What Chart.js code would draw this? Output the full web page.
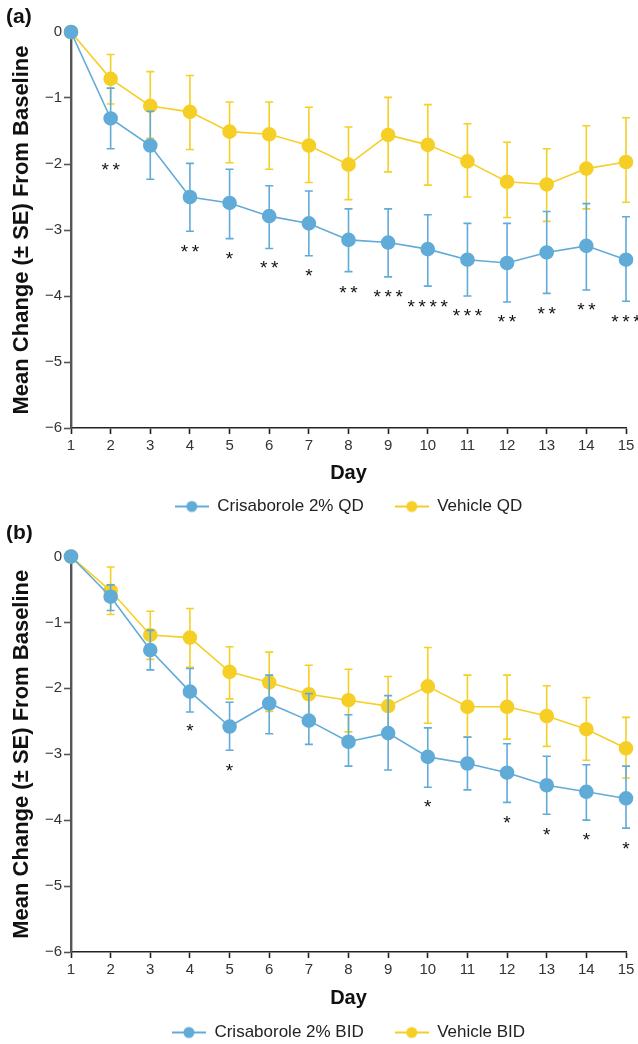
<!DOCTYPE html>
<html>
<head>
<meta charset="utf-8">
<script src="https://cdn.jsdelivr.net/npm/chart.js@4/dist/chart.umd.min.js"></script>
<style>
  html, body { margin: 0; padding: 0; background: #fff; overflow: hidden; }
  #page { position: relative; width: 638px; height: 1044px; overflow: hidden; }
  .panel { position: absolute; left: 0; width: 638px; }
  #panelA { top: 0; height: 525px; }
  #panelB { top: 525px; height: 526px; }
</style>
</head>
<body>
<div id="page">
  <div class="panel" id="panelA"><canvas id="chartA"></canvas></div>
  <div class="panel" id="panelB"><canvas id="chartB"></canvas></div>
</div>
<script>
// --- data ---
const days = [1, 2, 3, 4, 5, 6, 7, 8, 9, 10, 11, 12, 13, 14, 15];

// (a) QD
const crisQD   = [0, -1.31, -1.72, -2.50, -2.59, -2.79, -2.90, -3.15, -3.19, -3.29, -3.45, -3.50, -3.34, -3.24, -3.45];
const crisQDHi = [0, -0.85, -1.20, -1.99, -2.08, -2.33, -2.41, -2.68, -2.68, -2.77, -2.90, -2.90, -2.72, -2.60, -2.80];
const crisQDLo = [0, -1.77, -2.23, -3.02, -3.13, -3.28, -3.39, -3.63, -3.71, -3.85, -4.00, -4.09, -3.96, -3.91, -4.08];
const vehQD    = [0, -0.71, -1.12, -1.21, -1.51, -1.55, -1.72, -2.01, -1.56, -1.71, -1.96, -2.27, -2.31, -2.07, -1.97];
const vehQDHi  = [0, -0.34, -0.60, -0.66, -1.06, -1.06, -1.14, -1.44, -0.99, -1.10, -1.39, -1.67, -1.77, -1.42, -1.30];
const vehQDLo  = [0, -1.09, -1.61, -1.78, -1.98, -2.08, -2.28, -2.54, -2.12, -2.32, -2.50, -2.81, -2.87, -2.68, -2.58];
const sigQD    = ['', '**', '', '**', '*', '**', '*', '**', '***', '****', '***', '**', '**', '**', '***'];
const sigQDY   = [0, -2.03, 0, -3.26, -3.37, -3.51, -3.63, -3.88, -3.95, -4.10, -4.23, -4.33, -4.20, -4.14, -4.33];

// (b) BID
const crisBID   = [0, -0.61, -1.42, -2.05, -2.58, -2.23, -2.49, -2.81, -2.68, -3.04, -3.14, -3.28, -3.47, -3.57, -3.67];
const crisBIDHi = [0, -0.43, -1.12, -1.70, -2.21, -1.80, -2.08, -2.40, -2.11, -2.60, -2.74, -2.84, -3.03, -3.16, -3.18];
const crisBIDLo = [0, -0.82, -1.72, -2.36, -2.94, -2.69, -2.85, -3.18, -3.24, -3.50, -3.54, -3.73, -3.91, -4.00, -4.12];
const vehBID    = [0, -0.52, -1.19, -1.23, -1.75, -1.91, -2.09, -2.18, -2.27, -1.97, -2.28, -2.28, -2.42, -2.62, -2.91];
const vehBIDHi  = [0, -0.16, -0.83, -0.79, -1.37, -1.45, -1.65, -1.71, -1.82, -1.38, -1.80, -1.80, -1.96, -2.14, -2.44];
const vehBIDLo  = [0, -0.88, -1.56, -1.68, -2.16, -2.35, -2.52, -2.66, -2.74, -2.53, -2.74, -2.77, -2.88, -3.09, -3.36];
const sigBID    = ['', '', '', '*', '*', '', '', '', '', '*', '', '*', '*', '*', '*'];
const sigBIDY   = [0, 0, 0, -2.58, -3.18, 0, 0, 0, 0, -3.73, 0, -3.97, -4.15, -4.23, -4.37];

const BLUE = '#61abd8';
const YELLOW = '#f6cf26';
const SANS = "'Liberation Sans', Arial, Helvetica, sans-serif";

const toPoints = arr => days.map((d, i) => ({ x: d, y: arr[i] }));

const legendIcon = (color) => {
    const c = document.createElement('canvas');
    c.width = 34; c.height = 14;
    const g = c.getContext('2d');
    g.strokeStyle = color; g.lineWidth = 2;
    g.beginPath(); g.moveTo(0, 7); g.lineTo(34, 7); g.stroke();
    g.fillStyle = color;
    g.beginPath(); g.arc(17, 7, 5.5, 0, Math.PI * 2); g.fill();
    return c;
};

// error bars drawn just before each dataset's own line
const errorBars = {
    id: 'errorBars',
    beforeDatasetDraw(chart, args) {
        const ds = chart.data.datasets[args.index];
        if (!ds.errHi) return;
        const { ctx, scales: { x, y } } = chart;
        ctx.save();
        ctx.strokeStyle = ds.borderColor;
        ctx.lineWidth = 1.6;
        days.forEach((d, i) => {
            if (ds.errHi[i] === ds.errLo[i]) return;
            const px = x.getPixelForValue(d);
            const top = y.getPixelForValue(ds.errHi[i]);
            const bot = y.getPixelForValue(ds.errLo[i]);
            ctx.beginPath();
            ctx.moveTo(px, top); ctx.lineTo(px, bot);
            ctx.moveTo(px - 4, top); ctx.lineTo(px + 4, top);
            ctx.moveTo(px - 4, bot); ctx.lineTo(px + 4, bot);
            ctx.stroke();
        });
        ctx.restore();
    }
};

// significance stars and panel letter
const annotations = {
    id: 'annotations',
    afterDraw(chart, args, opts) {
        const { ctx, scales: { x, y } } = chart;
        ctx.save();
        ctx.fillStyle = '#111';
        ctx.font = '19px ' + SANS;
        ctx.textAlign = 'center';
        ctx.textBaseline = 'alphabetic';
        opts.sig.forEach((s, i) => {
            if (!s) return;
            const px = x.getPixelForValue(days[i]);
            const py = y.getPixelForValue(opts.sigY[i]) + 10.5;
            const pitch = 11;
            const start = px - (s.length - 1) * pitch / 2;
            for (let k = 0; k < s.length; k++) ctx.fillText('*', start + k * pitch, py);
        });
        ctx.font = 'bold 21px ' + SANS;
        ctx.textAlign = 'left';
        ctx.textBaseline = 'middle';
        ctx.fillText(opts.letter, 6, opts.letterY);
        ctx.restore();
    }
};

const makeChart = (id, letter, letterY, series, sig, sigY, lay) => {
    return new Chart(document.getElementById(id), {
        type: 'line',
        data: {
            datasets: series.map(s => ({
                label: s.label,
                data: toPoints(s.mean),
                errHi: s.hi,
                errLo: s.lo,
                borderColor: s.color,
                backgroundColor: s.color,
                pointBackgroundColor: s.color,
                pointBorderColor: s.color,
                pointRadius: 6.5,
                pointHoverRadius: 6.5,
                borderWidth: 1.6,
                tension: 0,
                clip: false
            }))
        },
        options: {
            responsive: true,
            maintainAspectRatio: false,
            animation: false,
            events: [],
            layout: { padding: { top: lay.top, right: 12, left: 0, bottom: 0 } },
            scales: {
                x: {
                    type: 'linear',
                    min: 1, max: 15,
                    border: { color: '#222', width: 1.6 },
                    grid: { drawOnChartArea: false, drawTicks: true, tickLength: 6, color: '#222', tickWidth: 1.6 },
                    ticks: { stepSize: 1, color: '#333', padding: 3, font: { family: SANS, size: 15 }, maxRotation: 0 },
                    title: { display: true, text: 'Day', color: '#111', font: { family: SANS, size: 20, weight: 'bold' }, padding: { top: 0, bottom: lay.dayPad } },
                    afterFit: (scale) => { scale.height = lay.xH; }
                },
                y: {
                    min: -6, max: 0,
                    border: { color: '#555', width: 2.4 },
                    grid: { drawOnChartArea: false, drawTicks: true, tickLength: 7, color: '#555', tickWidth: 1.6 },
                    ticks: {
                        stepSize: 1, color: '#333', padding: 2,
                        font: { family: SANS, size: 15 },
                        callback: v => v < 0 ? '\u2212' + Math.abs(v) : String(v)
                    },
                    title: { display: true, text: 'Mean Change (\u00b1 SE) From Baseline', color: '#111', font: { family: SANS, size: 22, weight: 'bold' }, padding: { top: 9, bottom: 0 } },
                    afterFit: (scale) => { scale.width = 71; }
                }
            },
            plugins: {
                legend: {
                    position: 'bottom',
                    fullSize: false,
                    labels: {
                        usePointStyle: true,
                        pointStyleWidth: 34,
                        color: '#222',
                        padding: 31,
                        font: { family: SANS, size: 17 },
                        generateLabels: (chart) => chart.data.datasets.map((ds, i) => ({
                            text: ds.label,
                            fillStyle: ds.borderColor,
                            strokeStyle: ds.borderColor,
                            fontColor: '#222',
                            lineWidth: 0,
                            pointStyle: legendIcon(ds.borderColor),
                            hidden: false,
                            datasetIndex: i
                        }))
                    }
                },
                tooltip: { enabled: false },
                annotations: { letter, letterY, sig, sigY }
            }
        },
        plugins: [errorBars, annotations]
    });
};

makeChart('chartA', '(a)', 17, [
    { label: 'Crisaborole 2% QD', mean: crisQD, hi: crisQDHi, lo: crisQDLo, color: BLUE },
    { label: 'Vehicle QD', mean: vehQD, hi: vehQDHi, lo: vehQDLo, color: YELLOW }
], sigQD, sigQDY, { top: 32, xH: 39, dayPad: -18 });

makeChart('chartB', '(b)', 8, [
    { label: 'Crisaborole 2% BID', mean: crisBID, hi: crisBIDHi, lo: crisBIDLo, color: BLUE },
    { label: 'Vehicle BID', mean: vehBID, hi: vehBIDHi, lo: vehBIDLo, color: YELLOW }
], sigBID, sigBIDY, { top: 31.5, xH: 41, dayPad: -17 });
</script>
</body>
</html>
